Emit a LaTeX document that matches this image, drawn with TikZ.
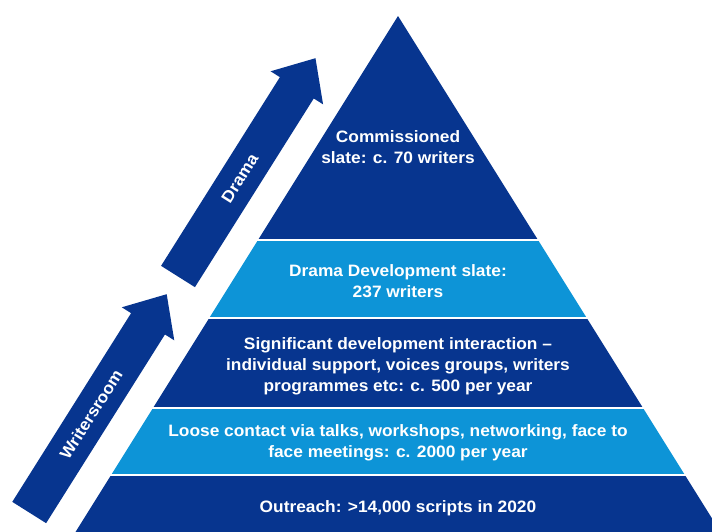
\documentclass[tikz,border=0pt]{standalone}
\usepackage{fontspec}
\setmainfont[FakeStretch=1.05]{Liberation Sans}
\definecolor{navy}{RGB}{7,53,143}
\definecolor{sky}{RGB}{13,148,215}
\begin{document}
\begin{tikzpicture}[x=1pt,y=-1pt,
  lbl/.style={text=white,font=\fontsize{16.5}{20.8}\selectfont\bfseries,align=center,inner sep=0pt},
  arrowshape/.style={fill=navy}]
\useasboundingbox (0,0) rectangle (712,531);
\fill[white] (0,0) rectangle (712,531);
% pyramid: apex (398,16), half-width = 0.625*(y-16)
\def\apx{398}
\pgfmathsetmacro{\hA}{0.625*(240-16)}
\pgfmathsetmacro{\hB}{0.625*(318-16)}
\pgfmathsetmacro{\hC}{0.625*(408-16)}
\pgfmathsetmacro{\hD}{0.625*(475-16)}
\pgfmathsetmacro{\hE}{0.625*(540-16)}
\fill[navy] (\apx,16) -- (\apx+\hA,240) -- (\apx-\hA,240) -- cycle;
\fill[sky] (\apx-\hA,240) -- (\apx+\hA,240) -- (\apx+\hB,318) -- (\apx-\hB,318) -- cycle;
\fill[navy] (\apx-\hB,318) -- (\apx+\hB,318) -- (\apx+\hC,408) -- (\apx-\hC,408) -- cycle;
\fill[sky] (\apx-\hC,408) -- (\apx+\hC,408) -- (\apx+\hD,475) -- (\apx-\hD,475) -- cycle;
\fill[navy] (\apx-\hD,475) -- (\apx+\hD,475) -- (\apx+\hE,540) -- (\apx-\hE,540) -- cycle;
\foreach \yy/\hh in {240/\hA,318/\hB,408/\hC,475/\hD}
  \draw[white,line width=2pt] (\apx-\hh-2,\yy) -- (\apx+\hh+2,\yy);
% arrows
\begin{scope}[shift={(178,276.5)},rotate=57.8]
  \fill[arrowshape] (0,-20) -- (223,-20) -- (223,-31) -- (258,0) -- (223,31) -- (223,20) -- (0,20) -- cycle;
  \node[lbl,rotate=57.8] (drama) at (116,0) {Drama};
\end{scope}
\begin{scope}[shift={(29.2,512.5)},rotate=57.8]
  \fill[arrowshape] (0,-20) -- (223,-20) -- (223,-31) -- (258,0) -- (223,31) -- (223,20) -- (0,20) -- cycle;
  \node[lbl,rotate=57.8] (writers) at (116,0) {Writersroom};
\end{scope}
% labels
\node[lbl] (comm) at (398,147) {Commissioned\\slate: c. 70 writers};
\node[lbl] (dev) at (398,281) {Drama Development slate:\\237 writers};
\node[lbl] (sig) at (398,366) {Significant development interaction –\\individual support, voices groups, writers\\programmes etc: c. 500 per year};
\node[lbl] (loose) at (398,443) {Loose contact via talks, workshops, networking, face to\\face meetings: c. 2000 per year};
\node[lbl] (out) at (398,508) {Outreach: >14,000 scripts in 2020};
\end{tikzpicture}
\end{document}
